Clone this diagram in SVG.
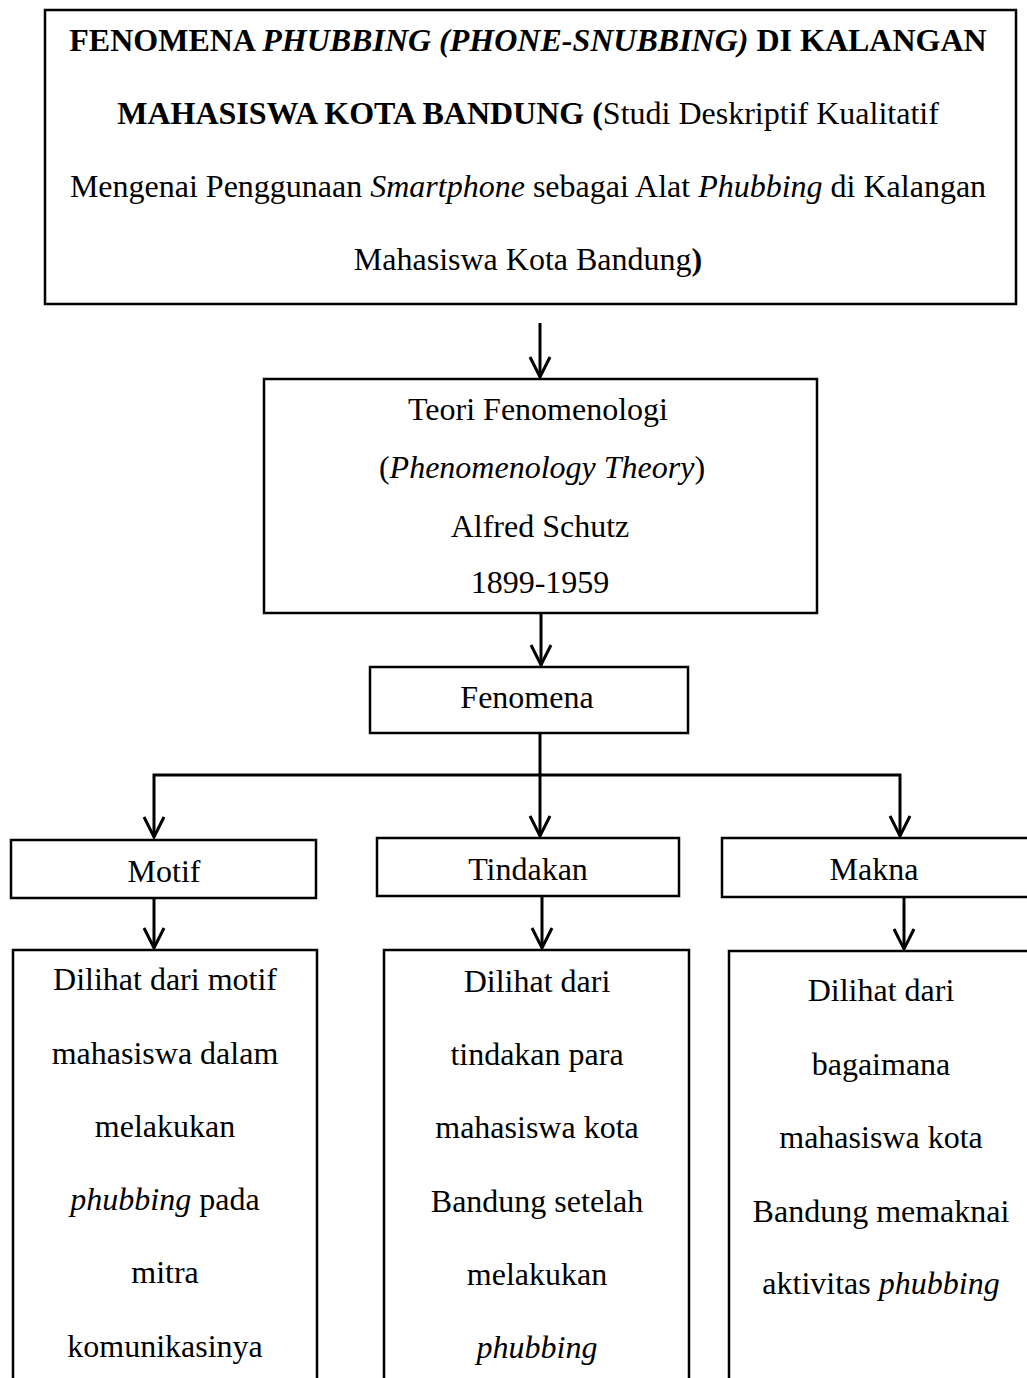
<svg xmlns="http://www.w3.org/2000/svg" width="1027" height="1378" viewBox="0 0 1027 1378">
<style>
  text { font-family: "Liberation Serif", "Times New Roman", serif; font-size: 32px; fill: #000; text-anchor: middle; }
  .b { font-weight: bold; }
  .i { font-style: italic; }
  .box { fill: #fff; stroke: #000; stroke-width: 2.5; }
  .conn { fill: none; stroke: #000; stroke-width: 3; }
</style>
<defs>
  <marker id="arr" markerUnits="userSpaceOnUse" markerWidth="30" markerHeight="30" viewBox="-22 -15 30 30" refX="0" refY="0" orient="auto" overflow="visible">
    <path d="M-20,-10 L0,0 L-20,10" fill="none" stroke="#000" stroke-width="3"/>
  </marker>
</defs>
<rect width="1027" height="1378" fill="#fff"/>

<g id="title">
  <rect class="box" x="45" y="10" width="971" height="294"/>
  <text x="528" y="51"><tspan class="b">FENOMENA </tspan><tspan class="b i">PHUBBING (PHONE-SNUBBING)</tspan><tspan class="b"> DI KALANGAN</tspan></text>
  <text x="528" y="124"><tspan class="b">MAHASISWA KOTA BANDUNG (</tspan>Studi Deskriptif Kualitatif</text>
  <text x="528" y="197">Mengenai Penggunaan <tspan class="i">Smartphone</tspan> sebagai Alat <tspan class="i">Phubbing</tspan> di Kalangan</text>
  <text x="528" y="270">Mahasiswa Kota Bandung<tspan class="b">)</tspan></text>
</g>

<g id="teori">
  <rect class="box" x="264" y="379" width="553" height="234"/>
  <text x="538" y="420">Teori Fenomenologi</text>
  <text x="542" y="478">(<tspan class="i">Phenomenology Theory</tspan>)</text>
  <text x="540" y="537">Alfred Schutz</text>
  <text x="540" y="593">1899-1959</text>
</g>

<g id="fenomena">
  <rect class="box" x="370" y="667" width="318" height="66"/>
  <text x="527" y="708">Fenomena</text>
</g>

<g id="motif">
  <rect class="box" x="11" y="840" width="305" height="58"/>
  <text x="164" y="882">Motif</text>
</g>

<g id="tindakan">
  <rect class="box" x="377" y="838" width="302" height="58"/>
  <text x="528" y="880">Tindakan</text>
</g>

<g id="makna">
  <rect class="box" x="722" y="838" width="330" height="59"/>
  <text x="874" y="880">Makna</text>
</g>

<g id="desc-motif">
  <rect class="box" x="13" y="950" width="304" height="460"/>
  <text x="165" y="990">Dilihat dari motif</text>
  <text x="165" y="1064">mahasiswa dalam</text>
  <text x="165" y="1137">melakukan</text>
  <text x="165" y="1210"><tspan class="i">phubbing</tspan> pada</text>
  <text x="165" y="1283">mitra</text>
  <text x="165" y="1357">komunikasinya</text>
</g>

<g id="desc-tindakan">
  <rect class="box" x="384" y="950" width="305" height="460"/>
  <text x="537" y="992">Dilihat dari</text>
  <text x="537" y="1065">tindakan para</text>
  <text x="537" y="1138">mahasiswa kota</text>
  <text x="537" y="1212">Bandung setelah</text>
  <text x="537" y="1285">melakukan</text>
  <text x="537" y="1358" class="i">phubbing</text>
</g>

<g id="desc-makna">
  <rect class="box" x="729" y="951" width="330" height="460"/>
  <text x="881" y="1001">Dilihat dari</text>
  <text x="881" y="1075">bagaimana</text>
  <text x="881" y="1148">mahasiswa kota</text>
  <text x="881" y="1222">Bandung memaknai</text>
  <text x="881" y="1294">aktivitas <tspan class="i">phubbing</tspan></text>
</g>

<g id="connectors">
  <path class="conn" d="M540,323 L540,377" marker-end="url(#arr)"/>
  <path class="conn" d="M541,613 L541,665" marker-end="url(#arr)"/>
  <path class="conn" d="M540,733 L540,836" marker-end="url(#arr)"/>
  <path class="conn" d="M540,775 L154,775 L154,837" marker-end="url(#arr)"/>
  <path class="conn" d="M540,775 L900,775 L900,836" marker-end="url(#arr)"/>
  <path class="conn" d="M154,898 L154,948" marker-end="url(#arr)"/>
  <path class="conn" d="M542,896 L542,948" marker-end="url(#arr)"/>
  <path class="conn" d="M904,897 L904,949" marker-end="url(#arr)"/>
</g>
</svg>
